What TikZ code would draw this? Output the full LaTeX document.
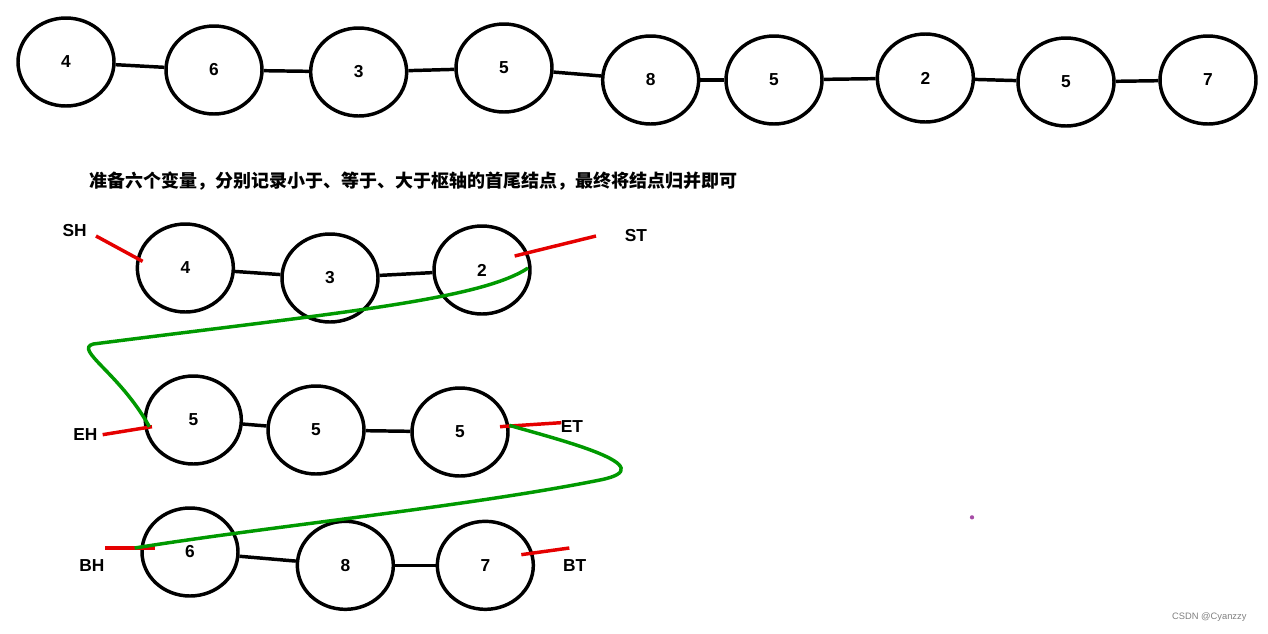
\documentclass[tikz,border=0pt]{standalone}
\usepackage{fontspec}
\usetikzlibrary{shapes.geometric}
\setmainfont{Liberation Sans}
\newfontfamily\cjk{Noto Sans CJK SC}
\begin{document}
\begin{tikzpicture}[x=1pt,y=-1pt,
  circ/.style={draw=black,line width=2.6pt,ellipse,minimum width=72pt,minimum height=66pt,inner sep=0pt,font=\bfseries\fontsize{13}{13}\selectfont},
  lnk/.style={line width=2.6pt},
  redline/.style={draw=red!90!black,line width=2.6pt},
  grnline/.style={draw=green!60!black,line width=2.6pt},
  lab/.style={font=\bfseries\fontsize{13}{13}\selectfont}]
\useasboundingbox (0,0) rectangle (951,475);
% top row
\node[circ] (t1) at (49.5,46.5) {4};
\node[circ] (t2) at (160.5,52.5) {6};
\node[circ] (t3) at (269,54) {3};
\node[circ] (t4) at (378,51) {5};
\node[circ] (t5) at (488,60) {8};
\node[circ] (t6) at (580.5,60) {5};
\node[circ] (t7) at (694,58.5) {2};
\node[circ] (t8) at (799.5,61.5) {5};
\node[circ] (t9) at (906,60) {7};
\foreach \a/\b in {t1/t2,t2/t3,t3/t4,t4/t5,t5/t6,t6/t7,t7/t8,t8/t9}
  \draw[lnk] (\a) -- (\b);
\node[anchor=west,inner sep=0pt,font=\cjk\bfseries\fontsize{13.5}{13.5}\selectfont] (txt) at (67,136) {准备六个变量，分别记录小于、等于、大于枢轴的首尾结点，最终将结点归并即可};
% row 2
\node[circ] (a1) at (139,201) {4};
\node[circ] (a2) at (247.5,208.5) {3};
\node[circ] (a3) at (361.5,202.5) {2};
% row 3
\node[circ] (b1) at (145,315) {5};
\node[circ] (b2) at (237,322.5) {5};
\node[circ] (b3) at (345,324) {5};
% row 4
\node[circ] (c1) at (142.5,414) {6};
\node[circ] (c2) at (259,424) {8};
\node[circ] (c3) at (364,424) {7};
\foreach \a/\b in {a1/a2,a2/a3,b1/b2,b2/b3,c1/c2,c2/c3}
  \draw[lnk] (\a) -- (\b);
% labels
\node[lab] (sh) at (56,173) {SH};
\node[lab] (st) at (477,177) {ST};
\node[lab] (eh) at (64,326) {EH};
\node[lab] (et) at (429,320) {ET};
\node[lab] (bh) at (69,424) {BH};
\node[lab] (bt) at (431,424) {BT};
\coordinate (p1) at (72,177); \coordinate (p2) at (107,196);
\coordinate (p3) at (386,192); \coordinate (p4) at (447,177);
\coordinate (p5) at (77,326); \coordinate (p6) at (114,320);
\coordinate (p7) at (375,320); \coordinate (p8) at (421,317);
\coordinate (p9) at (79,411); \coordinate (p10) at (116,411);
\coordinate (p11) at (391,416); \coordinate (p12) at (427,411);
\draw[redline] (p1)--(p2); \draw[redline] (p3)--(p4); \draw[redline] (p5)--(p6);
\draw[redline] (p7)--(p8); \draw[redline] (p9)--(p10); \draw[redline] (p11)--(p12);
% green
\coordinate (g1) at (396,201); \coordinate (g2) at (112,320);
\coordinate (g3) at (382,319); \coordinate (g4) at (101,411);
\draw[grnline] (g1) .. controls (360,225) and (250,235) .. (70,258)
  .. controls (55,262) and (90,280) .. (g2);
\draw[grnline] (g3) .. controls (420,330) and (500,350) .. (450,360)
  .. controls (350,380) and (200,395) .. (g4);
\fill[violet!70] (729,388) circle (1.6pt);
\node[font=\fontsize{7}{7}\selectfont,text=gray] (csdn) at (907,463) {CSDN @Cyanzzy};
\end{tikzpicture}
\end{document}
